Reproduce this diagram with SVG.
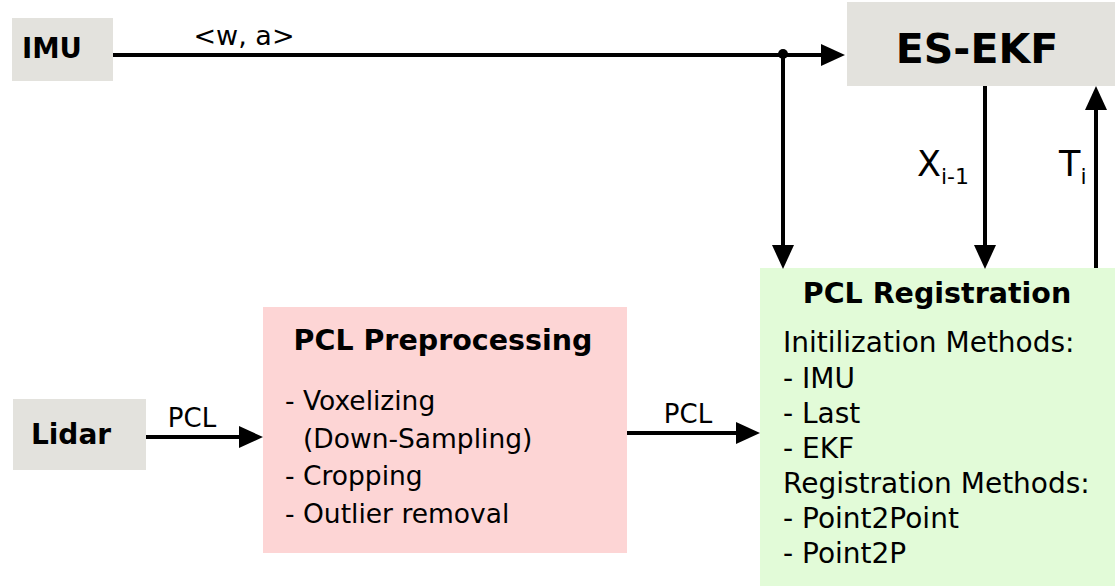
<svg xmlns="http://www.w3.org/2000/svg" width="1115" height="586" viewBox="0 0 1115 586">
<style>
.src{fill:#e3e2dd}
.pre{fill:#fdd5d5}
.reg{fill:#e2fbd8}
text{font-family:"DejaVu Sans","Liberation Sans",sans-serif;fill:#000}
.b{font-weight:bold}
.conn line{stroke:#000;stroke-width:4;fill:none}
</style>
<defs>
<marker id="ah" markerUnits="userSpaceOnUse" markerWidth="24" markerHeight="22" refX="0" refY="11" orient="auto" viewBox="0 0 24 22">
<path d="M0,0 L24,11 L0,22 z" fill="#000"/>
</marker>
</defs>
<g id="imu">
<rect class="src" x="12" y="18" width="101" height="63"/>
<text class="b" x="22" y="58" font-size="27.5">IMU</text>
</g>
<g id="eskf">
<rect class="src" x="847" y="2" width="268" height="84"/>
<text class="b" x="977" y="63" font-size="41" text-anchor="middle">ES-EKF</text>
</g>
<g id="lidar">
<rect class="src" x="13" y="399" width="133" height="71"/>
<text class="b" x="71" y="444" font-size="28" text-anchor="middle">Lidar</text>
</g>
<g id="preprocessing">
<rect class="pre" x="263" y="307" width="364" height="246"/>
<text class="b" x="443" y="350" font-size="28.5" text-anchor="middle">PCL Preprocessing</text>
<text font-size="26.5">
<tspan x="285" y="410">- Voxelizing</tspan>
<tspan x="303" y="448">(Down-Sampling)</tspan>
<tspan x="285" y="485">- Cropping</tspan>
<tspan x="285" y="523">- Outlier removal</tspan>
</text>
</g>
<g id="registration">
<rect class="reg" x="760" y="268" width="355" height="318"/>
<text class="b" x="937" y="303" font-size="28.5" text-anchor="middle">PCL Registration</text>
<text font-size="28">
<tspan x="783" y="352">Initilization Methods:</tspan>
<tspan x="783" y="388">- IMU</tspan>
<tspan x="783" y="423">- Last</tspan>
<tspan x="783" y="458">- EKF</tspan>
<tspan x="783" y="493">Registration Methods:</tspan>
<tspan x="783" y="528">- Point2Point</tspan>
<tspan x="783" y="563">- Point2P</tspan>
</text>
</g>
<g id="connectors" class="conn">
<line x1="113" y1="55" x2="821" y2="55" marker-end="url(#ah)"/>
<line x1="783" y1="55" x2="783" y2="245" marker-end="url(#ah)"/>
<circle cx="783" cy="54" r="5" fill="#000"/>
<line x1="985" y1="86" x2="985" y2="245" marker-end="url(#ah)"/>
<line x1="1096" y1="268" x2="1096" y2="110" marker-end="url(#ah)"/>
<line x1="146" y1="437" x2="239" y2="437" marker-end="url(#ah)"/>
<line x1="627" y1="433" x2="736" y2="433" marker-end="url(#ah)"/>
<text x="244" y="45" font-size="27" text-anchor="middle">&lt;w, a&gt;</text>
<text x="192" y="427" font-size="26" text-anchor="middle">PCL</text>
<text x="688" y="423" font-size="26" text-anchor="middle">PCL</text>
<text x="917" y="176" font-size="35">X<tspan font-size="22" dy="8">i-1</tspan></text>
<text x="1059" y="176" font-size="35">T<tspan font-size="22" dy="8">i</tspan></text>
</g>
</svg>
